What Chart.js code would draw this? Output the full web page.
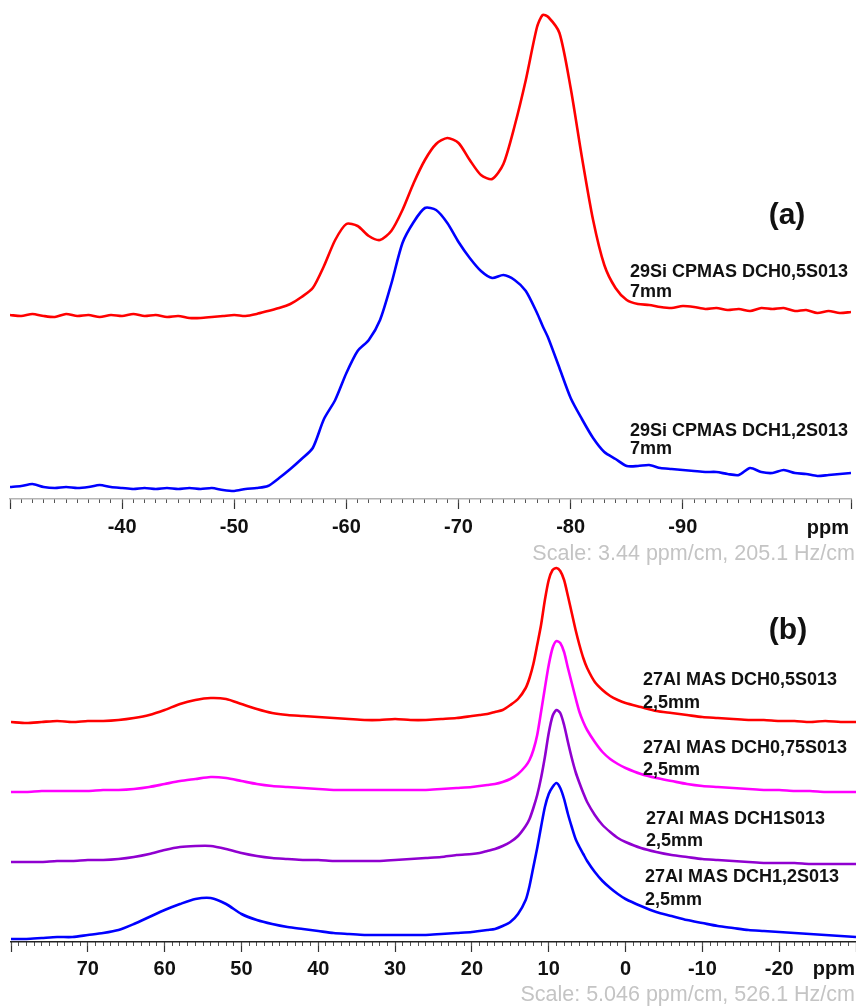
<!DOCTYPE html>
<html>
<head>
<meta charset="utf-8">
<script src="https://cdn.jsdelivr.net/npm/chart.js@4"></script>
<style>
    body { margin: 0; background: #fff; }
    #wrap { position: relative; width: 856px; height: 1007px; }
    canvas { position: absolute; left: 0; }
</style>
</head>
<body>
<div id="wrap">
    <canvas id="si" width="856" height="572" style="top:0"></canvas>
    <canvas id="al" width="856" height="447" style="top:560px"></canvas>
</div>
<script>
// (a) 29Si CPMAS, chemical shift in ppm, intensity in arbitrary units (stacked as drawn)
const siPpm = [-30, -31, -32, -33, -34, -35, -36, -37, -38, -39,
    -40, -41, -42, -43, -44, -45, -46, -47, -48, -49,
    -50, -51, -52, -53, -54, -55, -56, -57, -58, -59,
    -60, -61, -62, -63, -64, -65, -66, -67, -68, -69,
    -70, -71, -72, -73, -74, -75, -76, -77, -77.5, -78, -79,
    -80, -81, -82, -83, -84, -85, -86, -87, -88, -89,
    -90, -91, -92, -93, -94, -95, -96, -97, -98, -99,
    -100, -101, -102, -103, -104, -105];
const siDch05 = [184, 183, 185, 183, 182, 185, 183, 184, 182, 184,
    183, 185, 183, 184, 182, 183, 181, 181, 182, 183,
    184, 183, 185, 188, 191, 195, 202, 211, 233, 259,
    275, 273, 263, 259, 268, 289, 316, 339, 355, 361,
    356, 339, 324, 320, 335, 373, 419, 472, 484, 482, 466,
    411, 342, 279, 234, 211, 199, 195, 194, 192, 191,
    193, 192, 190, 191, 189, 190, 188, 191, 190, 191,
    188, 189, 186, 188, 186, 187];
const siDch12 = [12, 13, 15, 12, 11, 12, 11, 12, 14, 12,
    11, 10, 11, 10, 11, 10, 11, 10, 11, 9,
    8, 10, 11, 13, 21, 30, 40, 51, 80, 99,
    126, 148, 159, 179, 215, 256, 277, 291, 289, 276,
    257, 241, 228, 221, 224, 219, 208, 186, 173, 161, 131,
    101, 80, 61, 47, 40, 33, 33, 34, 31, 30,
    29, 28, 27, 27, 25, 24, 31, 27, 26, 29,
    26, 25, 23, 24, 25, 26];
const siTickLabels = [-40, -50, -60, -70, -80, -90];

// (b) 27Al MAS
const alPpm = [80, 78, 76, 74, 72, 70, 68, 66, 64, 62, 60, 58, 56, 54, 52, 50,
    48, 46, 44, 42, 40, 38, 36, 34, 32, 30, 28, 26, 24, 22, 20,
    19, 18, 17, 16, 15, 14, 13,
    12.5, 12, 11.5, 11, 10.5, 10, 9.5, 9, 8.5, 8, 7.5, 7, 6.5, 6, 5.5, 5,
    4, 3, 2, 1, 0,
    -2, -4, -6, -8, -10, -12, -14, -16, -18, -20, -22, -24, -26, -28, -30];
const alDch05 = [220, 219, 220, 221, 220, 221, 221, 222, 224, 227, 232, 238, 242, 244, 243, 238,
    233, 229, 227, 226, 225, 224, 223, 222, 222, 223, 222, 222, 223, 224, 226,
    227, 228, 230, 232, 237, 243, 254,
    264, 278, 297, 317, 342, 362, 372, 374, 371, 362, 346, 329, 312, 297, 284, 274,
    260, 252, 246, 242, 239,
    235, 231, 229, 227, 225, 224, 223, 222, 222, 221, 221, 220, 221, 220, 220];
const alDch075 = [150, 150, 151, 151, 151, 151, 152, 152, 153, 155, 158, 161, 163, 165, 164, 161,
    158, 156, 155, 154, 153, 152, 152, 152, 152, 152, 152, 152, 153, 154, 155,
    156, 157, 158, 160, 163, 168, 176,
    182, 192, 207, 230, 254, 277, 294, 301, 299, 290, 274, 259, 244, 230, 220, 212,
    200, 190, 183, 178, 174,
    168, 164, 161, 158, 156, 155, 154, 153, 152, 152, 151, 151, 150, 150, 150];
const alDch1 = [80, 80, 80, 81, 81, 82, 82, 83, 85, 88, 92, 95, 96, 96, 93, 89,
    86, 84, 83, 82, 82, 81, 81, 81, 81, 82, 83, 84, 85, 87, 88,
    89, 91, 93, 96, 100, 106, 116,
    123, 134, 147, 164, 185, 209, 226, 232, 229, 217, 200, 184, 170, 159, 149, 140,
    127, 117, 110, 104, 100,
    94, 90, 87, 85, 83, 82, 81, 80, 79, 79, 79, 78, 78, 78, 78];
const alDch12 = [3, 3, 4, 5, 5, 7, 9, 12, 18, 25, 32, 38, 43, 44, 38, 28,
    22, 18, 15, 13, 11, 9, 8, 7, 7, 7, 7, 7, 8, 9, 10,
    11, 12, 13, 16, 20, 28, 42,
    56, 75, 94, 115, 135, 148, 155, 159, 154, 143, 128, 115, 103, 95, 88, 81,
    70, 61, 54, 48, 43,
    36, 30, 26, 22, 19, 16, 14, 12, 11, 10, 9, 8, 7, 6, 5];
const alTickLabels = [70, 60, 50, 40, 30, 20, 10, 0, -10, -20];

const FONT = '"Liberation Sans", Arial, sans-serif';

// draws the free text (labels, "ppm", scale line) after the chart
const textPlugin = {
    id: 'texts',
    afterDraw(chart, args, opts) {
        const ctx = chart.ctx;
        ctx.save();
        ctx.textBaseline = 'middle';
        opts.items.forEach(t => {
            ctx.font = t.font;
            ctx.fillStyle = t.color || '#111';
            ctx.textAlign = t.align || 'left';
            ctx.fillText(t.text, t.x, t.y);
        });
        ctx.restore();
    }
};

function toPoints(xs, ys) {
    return xs.map((x, i) => ({ x: x, y: ys[i] }));
}

// fixed axis height, and no extra side padding for the tick labels
function fixAxis(height) {
    return s => {
        s.height = height;
        s.paddingLeft = 0;
        s.paddingRight = 0;
    };
}

function spectrumChart(id, cfg) {
    return new Chart(document.getElementById(id), {
        type: 'line',
        data: {
            datasets: cfg.series.map(s => ({
                data: toPoints(cfg.ppm, s.values),
                borderColor: s.color,
                xAxisID: 'x'
            }))
        },
        options: {
            responsive: false,
            animation: false,
            devicePixelRatio: 1,
            layout: { padding: cfg.padding, autoPadding: false },
            elements: {
                point: { radius: 0, hoverRadius: 0, hitRadius: 0 },
                line: { borderWidth: 2.6, tension: 0.25, borderJoinStyle: 'round' }
            },
            plugins: {
                legend: { display: false },
                tooltip: { enabled: false },
                texts: { items: cfg.texts }
            },
            scales: {
                x: {
                    type: 'linear',
                    position: 'bottom',
                    reverse: true,
                    min: cfg.min,
                    max: cfg.max,
                    weight: 1,
                    border: { color: cfg.axisColor, width: 1.5 },
                    grid: { drawOnChartArea: false, tickLength: 10, color: '#333', tickWidth: 1.2 },
                    ticks: {
                        stepSize: 10,
                        autoSkip: false,
                        maxRotation: 0,
                        padding: cfg.tickPadding,
                        color: '#111',
                        font: { family: FONT, size: 20, weight: 'bold' },
                        callback: v => cfg.labels.includes(v) ? String(v) : ''
                    },
                    afterFit: fixAxis(cfg.axisHeight)
                },
                xMinor: {
                    type: 'linear',
                    axis: 'x',
                    position: 'bottom',
                    reverse: true,
                    min: cfg.min,
                    max: cfg.max,
                    weight: 0,
                    border: { display: false },
                    grid: { drawOnChartArea: false, tickLength: 4, color: '#555', tickWidth: 1 },
                    ticks: { stepSize: 1, autoSkip: false, display: false },
                    afterFit: fixAxis(0)
                },
                y: { display: false, min: 0, max: cfg.yMax }
            }
        },
        plugins: [textPlugin]
    });
}

const labelFont = 'bold 18px ' + FONT;
const scaleFont = '21.5px ' + FONT;

spectrumChart('si', {
    ppm: siPpm,
    series: [
        { values: siDch05, color: '#ff0000' },
        { values: siDch12, color: '#0000ff' }
    ],
    min: -105, max: -30, yMax: 499,
    axisHeight: 73, tickPadding: 6,
    padding: { left: 10, right: 5, top: 0, bottom: 0 },
    axisColor: '#b4b4b4',
    labels: siTickLabels,
    texts: [
        { text: '(a)', x: 787, y: 216, align: 'center', font: 'bold 30px ' + FONT },
        { text: '29Si CPMAS DCH0,5S013', x: 630, y: 272, font: labelFont },
        { text: '7mm', x: 630, y: 292, font: labelFont },
        { text: '29Si CPMAS DCH1,2S013', x: 630, y: 431, font: labelFont },
        { text: '7mm', x: 630, y: 449, font: labelFont },
        { text: 'ppm', x: 849, y: 528, align: 'right', font: 'bold 20px ' + FONT },
        { text: 'Scale: 3.44 ppm/cm, 205.1 Hz/cm', x: 855, y: 554, align: 'right', font: scaleFont, color: '#c4c4c4' }
    ]
});

spectrumChart('al', {
    ppm: alPpm,
    series: [
        { values: alDch05, color: '#ff0000' },
        { values: alDch075, color: '#ff00ff' },
        { values: alDch1, color: '#9000d0' },
        { values: alDch12, color: '#0000ff' }
    ],
    min: -30, max: 80, yMax: 382,
    axisHeight: 65, tickPadding: 5,
    padding: { left: 11, right: -2, top: 0, bottom: 0 },
    axisColor: '#222',
    labels: alTickLabels,
    texts: [
        { text: '(b)', x: 788, y: 71, align: 'center', font: 'bold 30px ' + FONT },
        { text: '27Al MAS DCH0,5S013', x: 643, y: 120, font: labelFont },
        { text: '2,5mm', x: 643, y: 143, font: labelFont },
        { text: '27Al MAS DCH0,75S013', x: 643, y: 188, font: labelFont },
        { text: '2,5mm', x: 643, y: 210, font: labelFont },
        { text: '27Al MAS DCH1S013', x: 646, y: 259, font: labelFont },
        { text: '2,5mm', x: 646, y: 281, font: labelFont },
        { text: '27Al MAS DCH1,2S013', x: 645, y: 317, font: labelFont },
        { text: '2,5mm', x: 645, y: 340, font: labelFont },
        { text: 'ppm', x: 855, y: 409, align: 'right', font: 'bold 20px ' + FONT },
        { text: 'Scale: 5.046 ppm/cm, 526.1 Hz/cm', x: 855, y: 435, align: 'right', font: scaleFont, color: '#c4c4c4' }
    ]
});
</script>
</body>
</html>
